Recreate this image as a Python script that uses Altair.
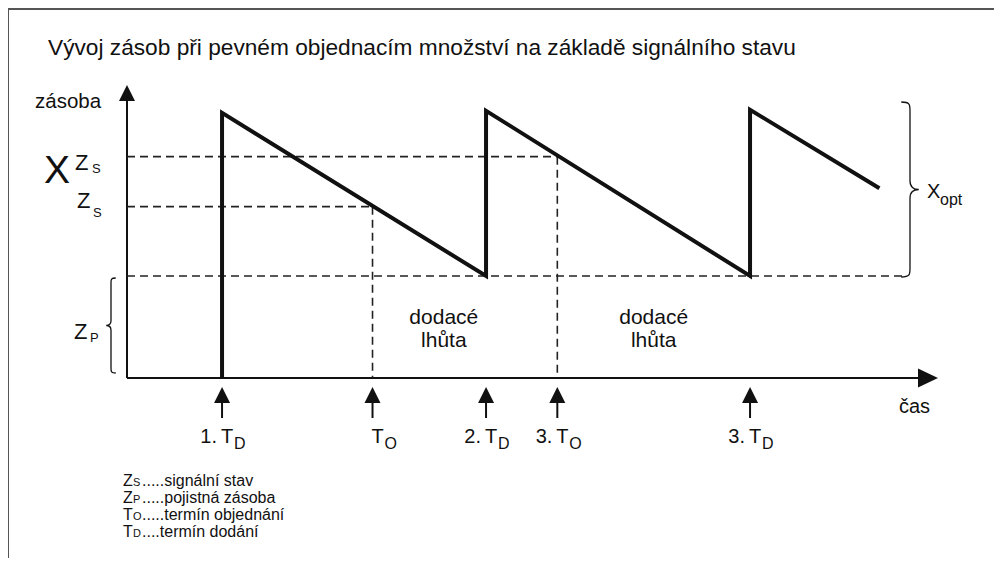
import altair as alt
import pandas as pd

# ---------------- data (schematic values) ----------------
T_DELIVERY = [3.6, 13.6, 23.6]          # 1., 2., 3. T_D  (time units)
T_ORDER = [9.3, 16.3]                   # T_O, 3. T_O
PEAK = [26.0, 26.2, 26.3]               # stock right after each delivery
Z_P = 10.0                              # safety stock (pojistná zásoba)
Z_S = 16.8                              # signal level (signální stav)
X_ZS = 21.7                             # level X^Zs
T_END, V_END = 28.5, 18.6               # end of last drawn segment
DASH_END = 29.4                         # end of Z_P dashed line (at the brace)

EVENT_T = [3.6, 9.3, 13.6, 16.3, 23.6]
EVENT_PREFIX = ["1.", "", "2.", "3.", "3."]
EVENT_SUB = ["D", "O", "D", "O", "D"]

LEAD_T = [12.0, 19.95]
LEAD_TEXT = ["dodacé\nlhůta", "dodacé\nlhůta"]

LEGEND_BIG = ["Z", "Z", "T", "T"]
LEGEND_SMALL = ["S", "P", "O", "D"]
LEGEND_REST = [".....signální stav", ".....pojistná zásoba",
               ".....termín objednání", "....termín dodání"]

TITLE = "Vývoj zásob při pevném objednacím množství na základě signálního stavu"

# ---------------- layout ----------------
W, H = 986, 550
PAGE = 8
ORIGIN_X, ORIGIN_Y = 127, 378     # page pixel of the axes origin
PX_T, PX_V = 26.4, 10.2           # pixels per unit
FONT = "Liberation Sans"
INK = "#111111"

x_scale = alt.Scale(domain=[(PAGE - ORIGIN_X) / PX_T, (PAGE + W - ORIGIN_X) / PX_T],
                    nice=False, zero=False)
y_scale = alt.Scale(domain=[(ORIGIN_Y - PAGE - H) / PX_V, (ORIGIN_Y - PAGE) / PX_V],
                    nice=False, zero=False)


def X(f):
    return alt.X(f, type="quantitative", scale=x_scale, axis=None)


def X2(f):
    return alt.X2(f)


def Y(f):
    return alt.Y(f, type="quantitative", scale=y_scale, axis=None)


def t_of(px):
    return (px - ORIGIN_X) / PX_T


def v_of(py):
    return (ORIGIN_Y - py) / PX_V


one = pd.DataFrame({"k": [0]})


def label(text, px, py, size, align="left", color=INK):
    return alt.Chart(one).mark_text(
        text=text, fontSize=size, font=FONT, align=align, baseline="alphabetic", color=color
    ).encode(x=alt.value(px - PAGE), y=alt.value(py - PAGE))


layers = []

# frame (top and left edges)
layers.append(alt.Chart(one).mark_rule(color="#555555", strokeWidth=2).encode(
    x=alt.value(0), x2=alt.value(W), y=alt.value(1)))
layers.append(alt.Chart(one).mark_rule(color="#555555", strokeWidth=2).encode(
    x=alt.value(0), y=alt.value(0), y2=alt.value(H)))

# axes
axes_df = pd.DataFrame({"t1": [0.0, 0.0], "t2": [0.0, t_of(920)],
                        "v1": [0.0, 0.0], "v2": [v_of(96), 0.0]})
layers.append(alt.Chart(axes_df).mark_rule(color=INK, strokeWidth=2).encode(
    x=X("t1"), x2=X2("t2"), y=Y("v1"), y2=alt.Y2("v2")))
layers.append(alt.Chart(pd.DataFrame({"t": [0.0], "v": [v_of(93)]})).mark_point(
    shape="M-1,1L0,-1L1,1Z", size=256, filled=True, color=INK, opacity=1, strokeWidth=0
).encode(x=X("t"), y=Y("v")))
layers.append(alt.Chart(pd.DataFrame({"t": [t_of(928)], "v": [0.0]})).mark_point(
    shape="M-1,-0.95L1,0L-1,0.95Z", size=400, filled=True, color=INK, opacity=1, strokeWidth=0
).encode(x=X("t"), y=Y("v")))

# dashed helper lines
dash_df = pd.DataFrame({
    "t1": [0.0, 0.0, T_ORDER[0], 0.0, T_ORDER[1]],
    "t2": [DASH_END, T_ORDER[0], T_ORDER[0], T_ORDER[1], T_ORDER[1]],
    "v1": [Z_P, Z_S, Z_S, X_ZS, X_ZS],
    "v2": [Z_P, Z_S, 0.0, X_ZS, 0.0],
})
layers.append(alt.Chart(dash_df).mark_rule(color="#222222", strokeWidth=1.6,
                                           strokeDash=[8, 5]).encode(
    x=X("t1"), x2=X2("t2"), y=Y("v1"), y2=alt.Y2("v2")))

# sawtooth
saw_t, saw_v = [T_DELIVERY[0]], [0.0]
for i, td in enumerate(T_DELIVERY):
    if i > 0:
        saw_t.append(td)
        saw_v.append(Z_P)
    saw_t.append(td)
    saw_v.append(PEAK[i])
saw_t.append(T_END)
saw_v.append(V_END)
saw_df = pd.DataFrame({"t": saw_t, "v": saw_v, "o": list(range(len(saw_t)))})
layers.append(alt.Chart(saw_df).mark_line(color=INK, strokeWidth=4, strokeJoin="miter",
                                          strokeCap="butt").encode(
    x=X("t"), y=Y("v"), order="o:Q"))

# event arrows and labels
ev_df = pd.DataFrame({"t": EVENT_T, "pre": EVENT_PREFIX, "sub": EVENT_SUB})
layers.append(alt.Chart(ev_df).mark_rule(color=INK, strokeWidth=2).encode(
    x=X("t"), y=alt.value(400 - PAGE), y2=alt.value(418 - PAGE)))
layers.append(alt.Chart(ev_df).mark_point(
    shape="M-1,1L0,-1L1,1Z", size=256, filled=True, color=INK, opacity=1, strokeWidth=0
).encode(x=X("t"), y=alt.value(395 - PAGE)))
layers.append(alt.Chart(ev_df).mark_text(
    text="T", fontSize=20, font=FONT, align="left", baseline="alphabetic", dx=-1, color=INK
).encode(x=X("t"), y=alt.value(443 - PAGE)))
layers.append(alt.Chart(ev_df).mark_text(
    fontSize=16, font=FONT, align="left", baseline="alphabetic", dx=12, color=INK
).encode(x=X("t"), y=alt.value(449 - PAGE), text="sub:N"))
layers.append(alt.Chart(ev_df).mark_text(
    fontSize=20, font=FONT, align="right", baseline="alphabetic", dx=-5, color=INK
).encode(x=X("t"), y=alt.value(443 - PAGE), text="pre:N"))

# lead time labels
lead_df = pd.DataFrame({"t": LEAD_T, "txt": LEAD_TEXT})
layers.append(alt.Chart(lead_df).mark_text(
    fontSize=21, font=FONT, align="center", baseline="alphabetic", lineBreak="\n",
    lineHeight=23, color=INK
).encode(x=X("t"), y=alt.value(324 - PAGE), text="txt:N"))

# braces
LBRACE = ("M0.1,-1C0,-1 0,-0.97 0,-0.9L0,-0.1C0,-0.03 -0.04,0 -0.1,0"
          "C-0.04,0 0,0.03 0,0.1L0,0.9C0,0.97 0,1 0.1,1")
RBRACE = ("M-0.1,-1C0,-1 0,-0.97 0,-0.9L0,-0.1C0,-0.03 0.04,0 0.1,0"
          "C0.04,0 0,0.03 0,0.1L0,0.9C0,0.97 0,1 -0.1,1")
layers.append(alt.Chart(one).mark_point(
    shape=LBRACE, size=95 ** 2, filled=False, color=INK, opacity=1, strokeWidth=1.3
).encode(x=alt.value(111 - PAGE), y=alt.value(325.5 - PAGE)))
layers.append(alt.Chart(one).mark_point(
    shape=RBRACE, size=175 ** 2, filled=False, color=INK, opacity=1, strokeWidth=1.3
).encode(x=alt.value(910 - PAGE), y=alt.value(189.5 - PAGE)))

# texts
layers += [
    label(TITLE, 48, 55, 22.7),
    label("zásoba", 35, 108, 20.5),
    label("X", 44, 183, 39),
    label("Z", 75, 170, 22),
    label("S", 92, 173, 13),
    label("Z", 77, 208, 22),
    label("S", 93, 217, 13),
    label("Z", 74, 339, 22),
    label("P", 90, 342, 13),
    label("X", 927, 198, 20),
    label("opt", 940, 205, 16),
    label("čas", 899, 413, 20),
]

LEG_BASE = [486, 503, 520, 537]
for big, small, rest, by in zip(LEGEND_BIG, LEGEND_SMALL, LEGEND_REST, LEG_BASE):
    layers.append(label(big, 123, by, 16))
    layers.append(label(small, 133, by, 11))
    layers.append(label(rest, 142, by, 16))

chart = alt.layer(*layers).properties(
    width=W, height=H, autosize=alt.AutoSizeParams(type="none"), padding=0,
    background="white"
).configure_view(stroke=None)

chart.save("out.html", embed_options={"renderer": "svg", "actions": False})
